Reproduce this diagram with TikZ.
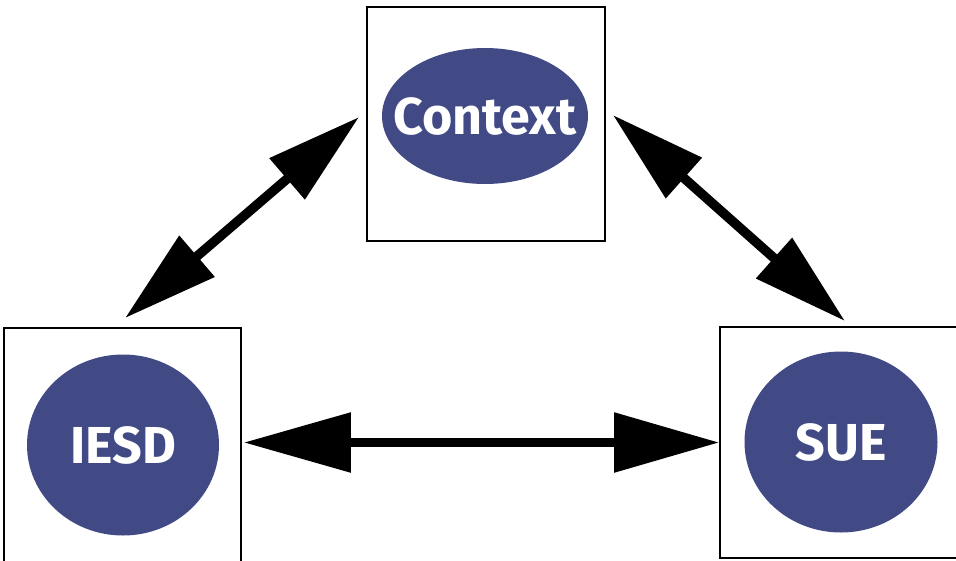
\documentclass[tikz,border=0pt]{standalone}
\usepackage{fontspec}
\setmainfont{Fira Sans}
\usetikzlibrary{arrows.meta,calc,shapes.geometric}
\definecolor{blob}{RGB}{66,74,134}
\tikzset{
  box/.style={draw=black,line width=1.8pt,fill=white,inner sep=0pt},
  blobnode/.style={ellipse,fill=blob,inner sep=0pt},
  blobtext/.style={text=white,font=\bfseries\fontsize{52}{52}\selectfont,inner sep=0pt},
}
\begin{document}
\begin{tikzpicture}[x=1pt,y=-1pt]
\useasboundingbox (0,0) rectangle (956,560);
% boxes
\node[box,minimum width=238pt,minimum height=234pt] (ctxbox) at (486,124) {};
\node[box,minimum width=237pt,minimum height=234pt] (iesdbox) at (122.5,445) {};
\node[box,minimum width=238pt,minimum height=231pt] (suebox) at (839,442.5) {};
% blobs
\node[blobnode,minimum width=206pt,minimum height=136pt] (ctx) at (485,116) {};
\node[blobtext] (ctxt) at (ctx) {Context};
\node[blobnode,minimum width=192pt,minimum height=181pt] (iesd) at (123,445) {};
\node[blobtext] (iesdt) at (iesd) {IESD};
\node[blobnode,minimum width=193pt,minimum height=181pt] (sue) at (841,442) {};
\node[blobtext] (suet) at (sue) {SUE};
% connectors
\draw[line width=9.5pt,{Triangle[length=95pt,width=52pt]}-{Triangle[length=95pt,width=52pt]}]
  ($(iesdbox.north)+(2.5,-9)$) -- ($(ctxbox.west)+(-7,-7)$);
\draw[line width=9.5pt,{Triangle[length=95pt,width=52pt]}-{Triangle[length=95pt,width=52pt]}]
  ($(ctxbox.east)+(7,-9)$) -- ($(suebox.north)+(6,-5)$);
\draw[line width=9pt,{Triangle[length=107pt,width=58pt]}-{Triangle[length=105pt,width=58pt]}]
  ($(iesdbox.east |- suebox.west)+(2,0)$) -- (suebox.west);
\end{tikzpicture}
\end{document}
